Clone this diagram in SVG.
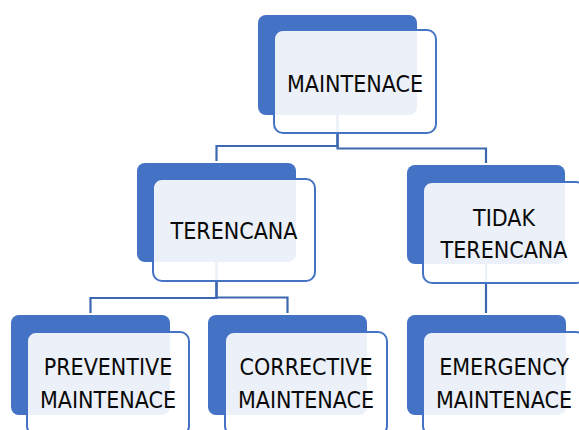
<svg xmlns="http://www.w3.org/2000/svg" width="579" height="430" viewBox="0 0 579 430">
<style>
.back{fill:#4472C4}
.front{fill:#FFFFFF;fill-opacity:0.9;stroke:#4472C4;stroke-width:2}
.conn{fill:none;stroke:#3E67B1;stroke-width:2.2}
text{font-family:"DejaVu Sans Condensed","DejaVu Sans",sans-serif;font-stretch:condensed;font-size:23px;fill:#0A0A0A;text-anchor:middle}
</style>
<rect width="579" height="430" fill="#FFFFFF"/>
<g id="connectors">
<path class="conn" d="M337.5,115 V146 H216.5 V161"/>
<path class="conn" d="M337.5,115 V148.5 H486 V163"/>
<path class="conn" d="M216.5,262 V298 H90.5 V313"/>
<path class="conn" d="M216.5,262 V297.5 H287.5 V313"/>
<path class="conn" d="M486,264 V313"/>
</g>
<g id="node-maintenace">
<rect class="back" x="258" y="15" width="159" height="100" rx="8"/>
<rect class="front" x="274" y="30" width="162" height="103" rx="9"/>
<text x="355" y="92">MAINTENACE</text>
</g>
<g id="node-terencana">
<rect class="back" x="137" y="163" width="159" height="99" rx="8"/>
<rect class="front" x="153" y="179" width="162" height="102" rx="9"/>
<text x="234" y="239">TERENCANA</text>
</g>
<g id="node-tidak-terencana">
<rect class="back" x="407" y="165" width="158" height="99" rx="8"/>
<rect class="front" x="423" y="182" width="162" height="101" rx="9"/>
<text x="504" y="226">TIDAK</text>
<text x="504" y="258">TERENCANA</text>
</g>
<g id="node-preventive">
<rect class="back" x="11" y="315" width="159" height="100" rx="8"/>
<rect class="front" x="27" y="332" width="162" height="103" rx="9"/>
<text x="108" y="375">PREVENTIVE</text>
<text x="108" y="408">MAINTENACE</text>
</g>
<g id="node-corrective">
<rect class="back" x="208" y="315" width="159" height="100" rx="8"/>
<rect class="front" x="225" y="332" width="162" height="103" rx="9"/>
<text x="306" y="375">CORRECTIVE</text>
<text x="306" y="408">MAINTENACE</text>
</g>
<g id="node-emergency">
<rect class="back" x="407" y="315" width="159" height="100" rx="8"/>
<rect class="front" x="423" y="332" width="162" height="103" rx="9"/>
<text x="504" y="375">EMERGENCY</text>
<text x="504" y="408">MAINTENACE</text>
</g>
</svg>
